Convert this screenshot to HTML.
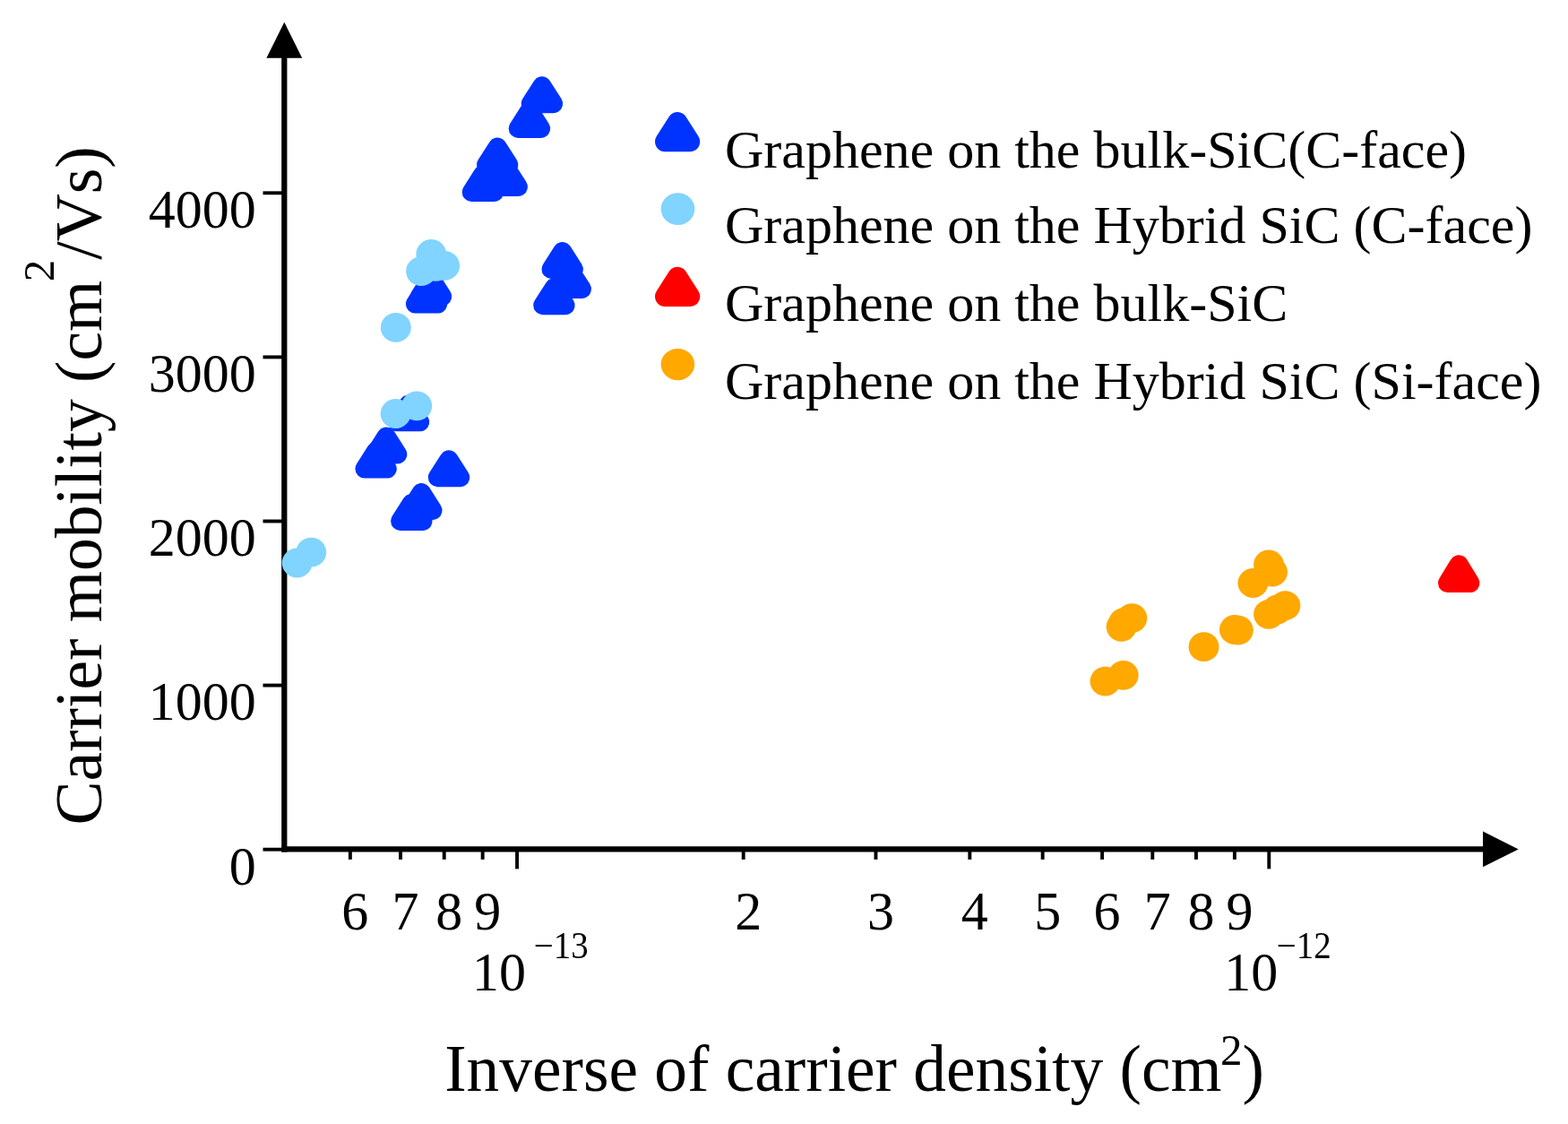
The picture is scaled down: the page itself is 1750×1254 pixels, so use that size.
<!DOCTYPE html>
<html lang="en">
<head>
<meta charset="utf-8">
<title>Carrier mobility vs inverse of carrier density</title>
<style>
html,body{margin:0;padding:0;background:#fff;}
body{width:1750px;height:1254px;overflow:hidden;}
svg{display:block;}
</style>
</head>
<body>
<svg width="1750" height="1254" viewBox="0 0 1750 1254">
<rect width="1750" height="1254" fill="#fff"/>
<g stroke="#000" fill="none" stroke-linecap="butt">
<line x1="317.3" y1="60" x2="317.3" y2="950.575" stroke-width="6.25"/>
<line x1="314.175" y1="947.45" x2="1660" y2="947.45" stroke-width="6.25"/>
<line x1="293.5" y1="215.30" x2="317.3" y2="215.30" stroke-width="3.9"/>
<line x1="293.5" y1="398.40" x2="317.3" y2="398.40" stroke-width="3.9"/>
<line x1="293.5" y1="581.50" x2="317.3" y2="581.50" stroke-width="3.9"/>
<line x1="293.5" y1="764.60" x2="317.3" y2="764.60" stroke-width="3.9"/>
<line x1="293.5" y1="947.70" x2="317.3" y2="947.70" stroke-width="3.9"/>
<line x1="390.86" y1="947.45" x2="390.86" y2="958.9" stroke-width="3.9"/>
<line x1="447.05" y1="947.45" x2="447.05" y2="958.9" stroke-width="3.9"/>
<line x1="495.72" y1="947.45" x2="495.72" y2="958.9" stroke-width="3.9"/>
<line x1="538.65" y1="947.45" x2="538.65" y2="958.9" stroke-width="3.9"/>
<line x1="829.69" y1="947.45" x2="829.69" y2="958.9" stroke-width="3.9"/>
<line x1="977.47" y1="947.45" x2="977.47" y2="958.9" stroke-width="3.9"/>
<line x1="1082.33" y1="947.45" x2="1082.33" y2="958.9" stroke-width="3.9"/>
<line x1="1163.66" y1="947.45" x2="1163.66" y2="958.9" stroke-width="3.9"/>
<line x1="1230.11" y1="947.45" x2="1230.11" y2="958.9" stroke-width="3.9"/>
<line x1="1286.30" y1="947.45" x2="1286.30" y2="958.9" stroke-width="3.9"/>
<line x1="1334.97" y1="947.45" x2="1334.97" y2="958.9" stroke-width="3.9"/>
<line x1="1377.90" y1="947.45" x2="1377.90" y2="958.9" stroke-width="3.9"/>
<line x1="577.05" y1="947.45" x2="577.05" y2="969.4" stroke-width="3.9"/>
<line x1="1416.30" y1="947.45" x2="1416.30" y2="969.4" stroke-width="3.9"/>
</g>
<path d="M317.3 24.7L337.2 64.8L297.4 64.8Z" fill="#000"/>
<path d="M1694.7 947.45L1655 927.6L1655 967.3000000000001Z" fill="#000"/>
<path d="M604.90 95.80L617.60 115.70L592.20 115.70Z" fill="#0033ff" stroke="#0033ff" stroke-width="21.00" stroke-linejoin="round"/>
<path d="M590.90 123.50L603.60 143.40L578.20 143.40Z" fill="#0033ff" stroke="#0033ff" stroke-width="21.00" stroke-linejoin="round"/>
<path d="M555.20 164.10L567.90 184.00L542.50 184.00Z" fill="#0033ff" stroke="#0033ff" stroke-width="21.00" stroke-linejoin="round"/>
<path d="M565.70 188.60L578.40 208.50L553.00 208.50Z" fill="#0033ff" stroke="#0033ff" stroke-width="21.00" stroke-linejoin="round"/>
<path d="M538.90 194.50L551.60 214.40L526.20 214.40Z" fill="#0033ff" stroke="#0033ff" stroke-width="21.00" stroke-linejoin="round"/>
<path d="M476.05 319.20L488.75 339.10L463.35 339.10Z" fill="#0033ff" stroke="#0033ff" stroke-width="21.00" stroke-linejoin="round"/>
<path d="M481.00 310.90L493.70 330.80L468.30 330.80Z" fill="#0033ff" stroke="#0033ff" stroke-width="21.00" stroke-linejoin="round"/>
<path d="M627.70 280.50L640.40 300.40L615.00 300.40Z" fill="#0033ff" stroke="#0033ff" stroke-width="21.00" stroke-linejoin="round"/>
<path d="M636.75 302.60L649.45 322.50L624.05 322.50Z" fill="#0033ff" stroke="#0033ff" stroke-width="21.00" stroke-linejoin="round"/>
<path d="M618.40 320.80L631.10 340.70L605.70 340.70Z" fill="#0033ff" stroke="#0033ff" stroke-width="21.00" stroke-linejoin="round"/>
<path d="M456.05 450.90L468.75 470.80L443.35 470.80Z" fill="#0033ff" stroke="#0033ff" stroke-width="21.00" stroke-linejoin="round"/>
<path d="M431.10 487.00L443.80 506.90L418.40 506.90Z" fill="#0033ff" stroke="#0033ff" stroke-width="21.00" stroke-linejoin="round"/>
<path d="M419.60 503.20L432.30 523.10L406.90 523.10Z" fill="#0033ff" stroke="#0033ff" stroke-width="21.00" stroke-linejoin="round"/>
<path d="M501.00 512.80L513.70 532.70L488.30 532.70Z" fill="#0033ff" stroke="#0033ff" stroke-width="21.00" stroke-linejoin="round"/>
<path d="M470.30 549.50L483.00 569.40L457.60 569.40Z" fill="#0033ff" stroke="#0033ff" stroke-width="21.00" stroke-linejoin="round"/>
<path d="M459.30 561.50L472.00 581.40L446.60 581.40Z" fill="#0033ff" stroke="#0033ff" stroke-width="21.00" stroke-linejoin="round"/>
<ellipse cx="441.80" cy="365.40" rx="16.95" ry="16.40" fill="#80d4ff"/>
<ellipse cx="481.30" cy="283.50" rx="16.95" ry="16.40" fill="#80d4ff"/>
<ellipse cx="486.40" cy="297.30" rx="16.95" ry="16.40" fill="#80d4ff"/>
<ellipse cx="496.10" cy="296.40" rx="16.95" ry="16.40" fill="#80d4ff"/>
<ellipse cx="470.10" cy="302.60" rx="16.95" ry="16.40" fill="#80d4ff"/>
<ellipse cx="331.60" cy="628.00" rx="16.95" ry="16.40" fill="#80d4ff"/>
<ellipse cx="347.30" cy="616.20" rx="16.95" ry="16.40" fill="#80d4ff"/>
<ellipse cx="441.60" cy="461.50" rx="16.95" ry="16.40" fill="#80d4ff"/>
<ellipse cx="465.20" cy="452.90" rx="16.95" ry="16.40" fill="#80d4ff"/>
<path d="M1628.20 629.70L1640.90 650.50L1615.50 650.50Z" fill="#ff0000" stroke="#ff0000" stroke-width="21.00" stroke-linejoin="round"/>
<ellipse cx="1233.50" cy="760.20" rx="16.95" ry="16.40" fill="#ffa800"/>
<ellipse cx="1253.70" cy="753.30" rx="16.95" ry="16.40" fill="#ffa800"/>
<ellipse cx="1251.60" cy="699.30" rx="16.95" ry="16.40" fill="#ffa800"/>
<ellipse cx="1254.10" cy="694.70" rx="16.95" ry="16.40" fill="#ffa800"/>
<ellipse cx="1263.30" cy="689.60" rx="16.95" ry="16.40" fill="#ffa800"/>
<ellipse cx="1343.50" cy="721.60" rx="16.95" ry="16.40" fill="#ffa800"/>
<ellipse cx="1377.90" cy="702.50" rx="16.95" ry="16.40" fill="#ffa800"/>
<ellipse cx="1381.80" cy="703.20" rx="16.95" ry="16.40" fill="#ffa800"/>
<ellipse cx="1398.40" cy="650.50" rx="16.95" ry="16.40" fill="#ffa800"/>
<ellipse cx="1416.00" cy="630.00" rx="16.95" ry="16.40" fill="#ffa800"/>
<ellipse cx="1420.00" cy="638.20" rx="16.95" ry="16.40" fill="#ffa800"/>
<ellipse cx="1416.00" cy="685.30" rx="16.95" ry="16.40" fill="#ffa800"/>
<ellipse cx="1434.40" cy="675.60" rx="16.95" ry="16.40" fill="#ffa800"/>
<ellipse cx="1425.60" cy="680.00" rx="16.95" ry="16.40" fill="#ffa800"/>
<path d="M756.10 136.20L770.00 158.00L742.20 158.00Z" fill="#0033ff" stroke="#0033ff" stroke-width="22.40" stroke-linejoin="round"/>
<ellipse cx="756.50" cy="233.10" rx="18.85" ry="17.90" fill="#80d4ff"/>
<path d="M756.10 309.00L770.00 330.80L742.20 330.80Z" fill="#ff0000" stroke="#ff0000" stroke-width="22.40" stroke-linejoin="round"/>
<ellipse cx="756.40" cy="406.60" rx="18.80" ry="17.70" fill="#ffa800"/>
<g font-family='"Liberation Serif", "DejaVu Serif", serif' fill="#000">
<text x="809.0" y="186.6" font-size="60" text-anchor="start">Graphene on the bulk-SiC(C-face)</text>
<text x="809.0" y="271.3" font-size="60" text-anchor="start">Graphene on the Hybrid SiC (C-face)</text>
<text x="809.0" y="358.3" font-size="60" text-anchor="start">Graphene on the bulk-SiC</text>
<text x="809.0" y="444.9" font-size="60" text-anchor="start">Graphene on the Hybrid SiC (Si-face)</text>
<text transform="translate(285.8 254.10) scale(1 1.035)" font-size="60" text-anchor="end">4000</text>
<text transform="translate(285.8 437.20) scale(1 1.035)" font-size="60" text-anchor="end">3000</text>
<text transform="translate(285.8 620.30) scale(1 1.035)" font-size="60" text-anchor="end">2000</text>
<text transform="translate(285.8 803.40) scale(1 1.035)" font-size="60" text-anchor="end">1000</text>
<text transform="translate(285.8 986.50) scale(1 1.035)" font-size="60" text-anchor="end">0</text>
<text transform="translate(396.36 1036.7) scale(1 1.035)" font-size="60" text-anchor="middle">6</text>
<text transform="translate(452.55 1036.7) scale(1 1.035)" font-size="60" text-anchor="middle">7</text>
<text transform="translate(501.22 1036.7) scale(1 1.035)" font-size="60" text-anchor="middle">8</text>
<text transform="translate(544.15 1036.7) scale(1 1.035)" font-size="60" text-anchor="middle">9</text>
<text transform="translate(835.19 1036.7) scale(1 1.035)" font-size="60" text-anchor="middle">2</text>
<text transform="translate(982.97 1036.7) scale(1 1.035)" font-size="60" text-anchor="middle">3</text>
<text transform="translate(1087.83 1036.7) scale(1 1.035)" font-size="60" text-anchor="middle">4</text>
<text transform="translate(1169.16 1036.7) scale(1 1.035)" font-size="60" text-anchor="middle">5</text>
<text transform="translate(1235.61 1036.7) scale(1 1.035)" font-size="60" text-anchor="middle">6</text>
<text transform="translate(1291.80 1036.7) scale(1 1.035)" font-size="60" text-anchor="middle">7</text>
<text transform="translate(1340.47 1036.7) scale(1 1.035)" font-size="60" text-anchor="middle">8</text>
<text transform="translate(1383.40 1036.7) scale(1 1.035)" font-size="60" text-anchor="middle">9</text>
<text transform="translate(557.05 1105.2) scale(1 1.035)" font-size="60" text-anchor="middle">10</text>
<text transform="translate(595.7 1069.2) scale(1 1.065)" font-size="39" text-anchor="start">−13</text>
<text transform="translate(1396.30 1105.2) scale(1 1.035)" font-size="60" text-anchor="middle">10</text>
<text transform="translate(1424.7 1069.2) scale(1 1.065)" font-size="39" text-anchor="start">−12</text>
<text x="496.2" y="1217.2" font-size="73.33">Inverse of carrier density (cm<tspan font-size="49" dx="-1.5" dy="-29.5">2</tspan><tspan dy="29.5">)</tspan></text>
<text transform="translate(113.3 920.5) rotate(-90)" font-size="73.45">Carrier mobility (cm<tspan font-size="49" dx="-1.5" dy="-53.2">2</tspan><tspan dy="53.2">/Vs)</tspan></text>
</g>
</svg>
</body>
</html>
